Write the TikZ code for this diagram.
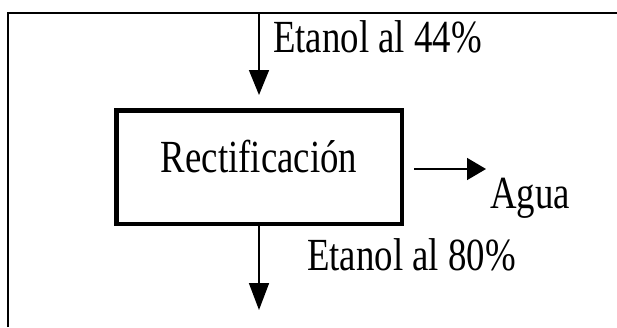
\documentclass[tikz,border=0pt]{standalone}
\usepackage{fontspec}
\setmainfont{Liberation Serif}
\usetikzlibrary{arrows.meta}
\newcommand{\nar}[1]{\scalebox{0.8}[1]{#1}}
\tikzset{
  procbox/.style = {draw, line width=4.5pt, minimum width=285.5pt, minimum height=113.5pt, inner sep=0pt},
  lbl/.style = {inner sep=0pt, font=\fontsize{46}{50}\selectfont},
  flow/.style = {line width=1.6pt, -{Triangle[length=25pt,width=20pt]}},
  frame/.style = {line width=2pt}
}
\begin{document}
\begin{tikzpicture}[x=1pt, y=-1pt]
	\useasboundingbox (0,0) rectangle (617,327);
	% marco
	\draw[frame] (8,327) -- (8,13) -- (617,13);
	\node[procbox] (rect) at (259,167) {};
	\node[lbl, anchor=base] (rectlbl) at ([yshift=-5pt]rect.center) {\nar{Rectificación}};
	\coordinate (feed) at (259,13);
	\coordinate (agua) at (486,169);
	\coordinate (prod) at (259,310);
	\node[lbl, anchor=base west] (lbl44) at (273,52) {\nar{Etanol al 44\%}};
	\node[lbl, anchor=base west] (lblagua) at (490,208) {\nar{Agua}};
	\node[lbl, anchor=base west] (lbl80) at (307,270) {\nar{Etanol al 80\%}};
	% flujos
	\draw[flow, shorten >=13pt] (feed) -- (rect.north);
	\draw[flow, -{Triangle[length=19pt,width=22pt]}, shorten <=10pt] (rect.east |- agua) -- (agua);
	\draw[flow, -{Triangle[length=27pt,width=20pt]}] (rect.south) -- (prod);
\end{tikzpicture}
\end{document}
